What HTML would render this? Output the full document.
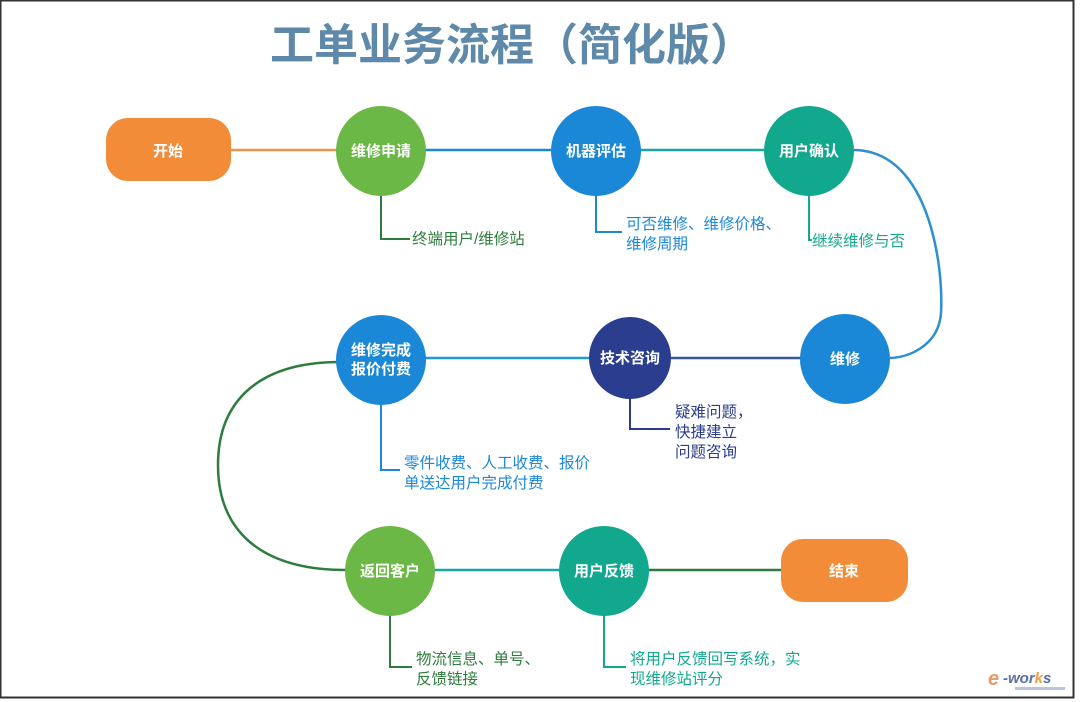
<!DOCTYPE html>
<html><head><meta charset="utf-8"><style>
body{margin:0;background:#fff}
svg{display:block}
text{font-family:"Liberation Sans","Noto Sans CJK SC",sans-serif}
.n{fill:#fff;font-weight:bold;font-size:15px;text-anchor:middle}
.c{font-size:15.5px}
</style></head><body>
<svg width="1080" height="702" viewBox="0 0 1080 702">
<rect x="0.5" y="0.5" width="1073" height="697" fill="#fff" stroke="#333" stroke-width="2"/>
<text x="512" y="60" font-size="44" font-weight="bold" fill="#5E89A9" text-anchor="middle">工单业务流程（简化版）</text>
<g fill="none" stroke-width="2.5">
<line x1="230" y1="150" x2="340" y2="150" stroke="#F0924A"/>
<line x1="425" y1="150" x2="555" y2="150" stroke="#1E88D8"/>
<line x1="640" y1="150" x2="768" y2="150" stroke="#16A8A0"/>
<path d="M853 150 C940 150 945 300 940 320 C935 345 910 358 888 358" stroke="#2F8FD0"/>
<line x1="670" y1="358" x2="802" y2="358" stroke="#3A55A5"/>
<line x1="425" y1="358" x2="590" y2="358" stroke="#1E9AD8"/>
<path d="M340 362 C260 362 218 400 218 465 C218 530 260 570 346 570" stroke="#2E7D3E"/>
<line x1="433" y1="570" x2="560" y2="570" stroke="#16A8A0"/>
<line x1="648" y1="570" x2="782" y2="570" stroke="#2E7D3E"/>
</g>
<g fill="none" stroke-width="2">
<path d="M381 195 V239 H410" stroke="#2E7D3E"/>
<path d="M596 195 V232 H622" stroke="#1E88D8"/>
<path d="M809 195 V240 H812" stroke="#12A88E"/>
<path d="M630 398 V429 H670" stroke="#2A3D8F"/>
<path d="M381 404 V470 H400" stroke="#1E88D8"/>
<path d="M390 615 V667 H412" stroke="#2E7D3E"/>
<path d="M604 615 V667 H626" stroke="#12A88E"/>
</g>
<rect x="106" y="118" width="125" height="63" rx="22" fill="#F28C38"/>
<text class="n" x="168" y="156">开始</text>
<rect x="781" y="539" width="127" height="63" rx="22" fill="#F28C38"/>
<text class="n" x="844" y="576">结束</text>
<circle cx="381" cy="151" r="45" fill="#6BB846"/><text class="n" x="381" y="156">维修申请</text>
<circle cx="596" cy="151" r="45" fill="#1A88D6"/><text class="n" x="596" y="156">机器评估</text>
<circle cx="809" cy="151" r="45" fill="#12A88E"/><text class="n" x="809" y="156">用户确认</text>
<circle cx="845" cy="359" r="45" fill="#1A88D6"/><text class="n" x="845" y="364">维修</text>
<circle cx="630" cy="358" r="41" fill="#2A3D8F"/><text class="n" x="630" y="363">技术咨询</text>
<circle cx="381" cy="360" r="45" fill="#1A88D6"/><text class="n" x="381" y="355">维修完成</text><text class="n" x="381" y="374">报价付费</text>
<circle cx="390" cy="571" r="45" fill="#6BB846"/><text class="n" x="390" y="576">返回客户</text>
<circle cx="604" cy="571" r="45" fill="#12A88E"/><text class="n" x="604" y="576">用户反馈</text>
<text class="c" x="412" y="244" fill="#2E7D3E">终端用户/维修站</text>
<text class="c" x="626" y="229" fill="#1E88D8">可否维修、维修价格、</text>
<text class="c" x="626" y="249" fill="#1E88D8">维修周期</text>
<text class="c" x="812" y="246" fill="#12A88E">继续维修与否</text>
<text class="c" x="675" y="417" fill="#2A3D8F">疑难问题，</text>
<text class="c" x="675" y="437" fill="#2A3D8F">快捷建立</text>
<text class="c" x="675" y="457" fill="#2A3D8F">问题咨询</text>
<text class="c" x="404" y="468" fill="#1E88D8">零件收费、人工收费、报价</text>
<text class="c" x="404" y="488" fill="#1E88D8">单送达用户完成付费</text>
<text class="c" x="416" y="664" fill="#2E7D3E">物流信息、单号、</text>
<text class="c" x="416" y="684" fill="#2E7D3E">反馈链接</text>
<text class="c" x="630" y="664" fill="#12A88E">将用户反馈回写系统，实</text>
<text class="c" x="630" y="684" fill="#12A88E">现维修站评分</text>
<text x="988" y="685" font-size="20" font-style="italic" font-weight="bold" fill="#E89A6A" font-family="Liberation Serif,serif">e</text>
<text x="1003" y="683" font-size="15" font-style="italic" font-weight="bold" fill="#5A6EA8" font-family="Liberation Serif,serif">-wor<tspan fill="#E8A040">k</tspan>s</text>
<rect x="1015" y="687" width="50" height="3" fill="#B8C4E0"/>
</svg>
</body></html>
